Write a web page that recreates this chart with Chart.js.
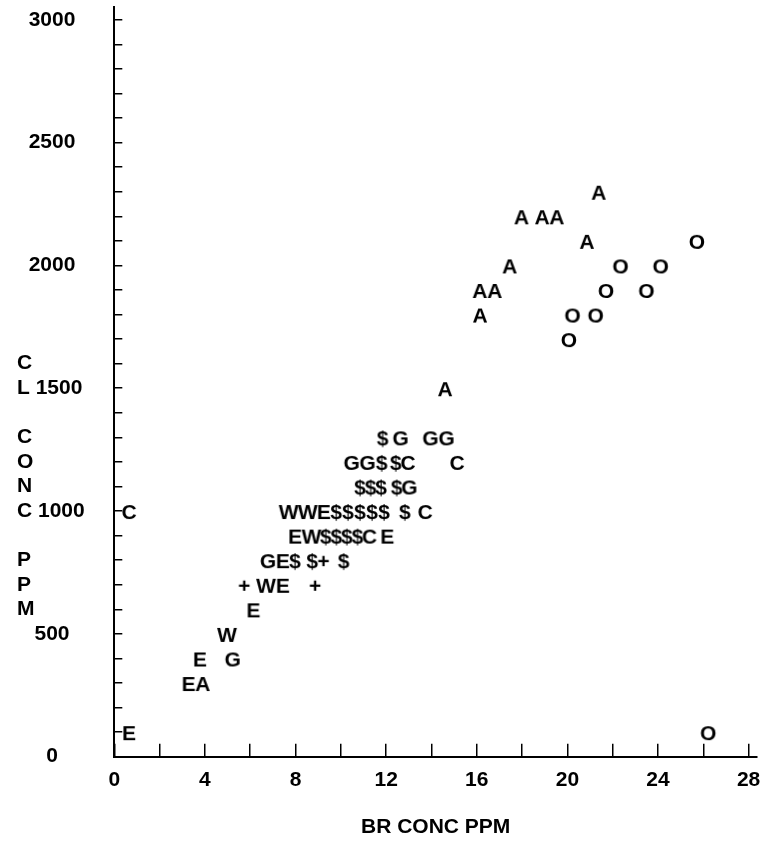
<!DOCTYPE html>
<html>
<head>
<meta charset="utf-8">
<script src="https://cdn.jsdelivr.net/npm/chart.js@4"></script>
<style>
  body { margin: 0; background: #fff; }
  canvas { display: block; }
</style>
</head>
<body>
<canvas id="chart" width="761" height="843"></canvas>
<script>
// plot symbols and the points drawn with each of them
const symbols = ["A", "O", "$", "G", "C", "W", "E", "+"];

const aX = [21.38, 17.97, 18.88, 19.53, 20.86, 17.45, 16.13, 16.79, 16.14, 14.60, 3.90];
const aY = [2300, 2200, 2200, 2200, 2100, 2000, 1900, 1900, 1800, 1500, 300];
const oX = [25.72, 22.35, 24.12, 21.71, 23.49, 20.23, 21.25, 20.07, 26.22];
const oY = [2100, 2000, 2000, 1900, 1900, 1800, 1800, 1700, 100];
const dollarX = [11.84, 11.80, 12.42, 10.84, 11.31, 11.77, 12.46, 9.79, 10.31, 10.84, 11.37, 11.90, 12.82, 9.33, 9.80, 10.26, 10.73, 7.97, 8.73, 10.12];
const dollarY = [1300, 1200, 1200, 1100, 1100, 1100, 1100, 1000, 1000, 1000, 1000, 1000, 1000, 900, 900, 900, 900, 800, 800, 800];
const gX = [12.64, 13.96, 14.67, 10.48, 11.18, 13.03, 6.79, 5.23];
const gY = [1300, 1300, 1300, 1200, 1200, 1100, 800, 400];
const cX = [12.96, 15.13, 13.72, 0.65, 11.26];
const cY = [1200, 1200, 1000, 1000, 900];
const wX = [7.70, 8.54, 8.71, 6.70, 4.98];
const wY = [1000, 1000, 900, 700, 500];
const eX = [9.25, 7.98, 12.05, 7.44, 7.44, 6.14, 3.78, 3.28, 0.65];
const eY = [1000, 900, 900, 800, 700, 600, 400, 300, 100];
const plusX = [9.24, 5.74, 8.87];
const plusY = [800, 700, 700];

// axis labels
const xLabelValues = [0, 4, 8, 12, 16, 20, 24, 28];
const yNumbers = [0, 500, 1000, 1500, 2000, 2500, 3000];
const yTitleValues = [1600, 1500, 1300, 1200, 1100, 1000, 800, 700, 600];
const yTitleLetters = ["C", "L", "C", "O", "N", "C", "P", "P", "M"];
const xTitle = "BR CONC PPM";

const FONT = '"Liberation Sans", Arial, sans-serif';
const SIZE = 21;

const xs = [aX, oX, dollarX, gX, cX, wX, eX, plusX];
const ys = [aY, oY, dollarY, gY, cY, wY, eY, plusY];

function glyph(ch) {
  const c = document.createElement("canvas");
  c.width = 26;
  c.height = 26;
  const g = c.getContext("2d");
  g.font = "bold " + SIZE + "px " + FONT;
  g.fillStyle = "#000";
  g.textAlign = "center";
  g.textBaseline = "alphabetic";
  g.fillText(ch, 13, 20.5);
  return c;
}

const datasets = symbols.map((s, i) => ({
  label: s,
  data: xs[i].map((x, j) => ({ x, y: ys[i][j] })),
  pointStyle: glyph(s),
  pointRadius: 3,
  pointHoverRadius: 3
}));

function yLabel(v) {
  const k = yTitleValues.indexOf(v);
  const letter = k >= 0 ? yTitleLetters[k] : "";
  const num = yNumbers.includes(v) ? String(v).padStart(4, " ") : "";
  if (!letter && !num) return "";
  return (letter ? letter + " " : "  ") + num;
}

const tickFont = { family: FONT, size: SIZE, weight: "bold" };

new Chart(document.getElementById("chart"), {
  type: "scatter",
  data: { datasets },
  options: {
    responsive: false,
    animation: false,
    layout: { padding: { left: 17, top: 7, right: 4, bottom: 0 } },
    plugins: { legend: { display: false }, tooltip: { enabled: false } },
    scales: {
      x: {
        type: "linear",
        min: 0,
        max: 28.37,
        afterFit: s => { s.height = 86.3; s.paddingLeft = 0; s.paddingRight = 0; },
        border: { display: true, color: "#000", width: 2 },
        grid: { drawOnChartArea: false, drawTicks: true, tickLength: -13, color: "#000", lineWidth: 1.5 },
        ticks: {
          stepSize: 2,
          includeBounds: false,
          autoSkip: false,
          maxRotation: 0,
          padding: 24,
          color: "#000",
          font: tickFont,
          callback: v => xLabelValues.includes(v) ? String(v) : ""
        },
        title: { display: true, text: xTitle, color: "#000", font: tickFont, padding: { top: 0, bottom: 3 } }
      },
      y: {
        type: "linear",
        min: 0,
        max: 3052,
        afterFit: s => { s.width = 97.3; s.paddingTop = 0; s.paddingBottom = 0; },
        border: { display: true, color: "#000", width: 2 },
        grid: { drawOnChartArea: false, drawTicks: true, tickLength: -8, color: "#000", lineWidth: 1.5 },
        ticks: {
          stepSize: 100,
          includeBounds: false,
          autoSkip: false,
          crossAlign: "far",
          color: "#000",
          font: tickFont,
          callback: v => yLabel(v)
        }
      }
    }
  }
});
</script>
</body>
</html>
